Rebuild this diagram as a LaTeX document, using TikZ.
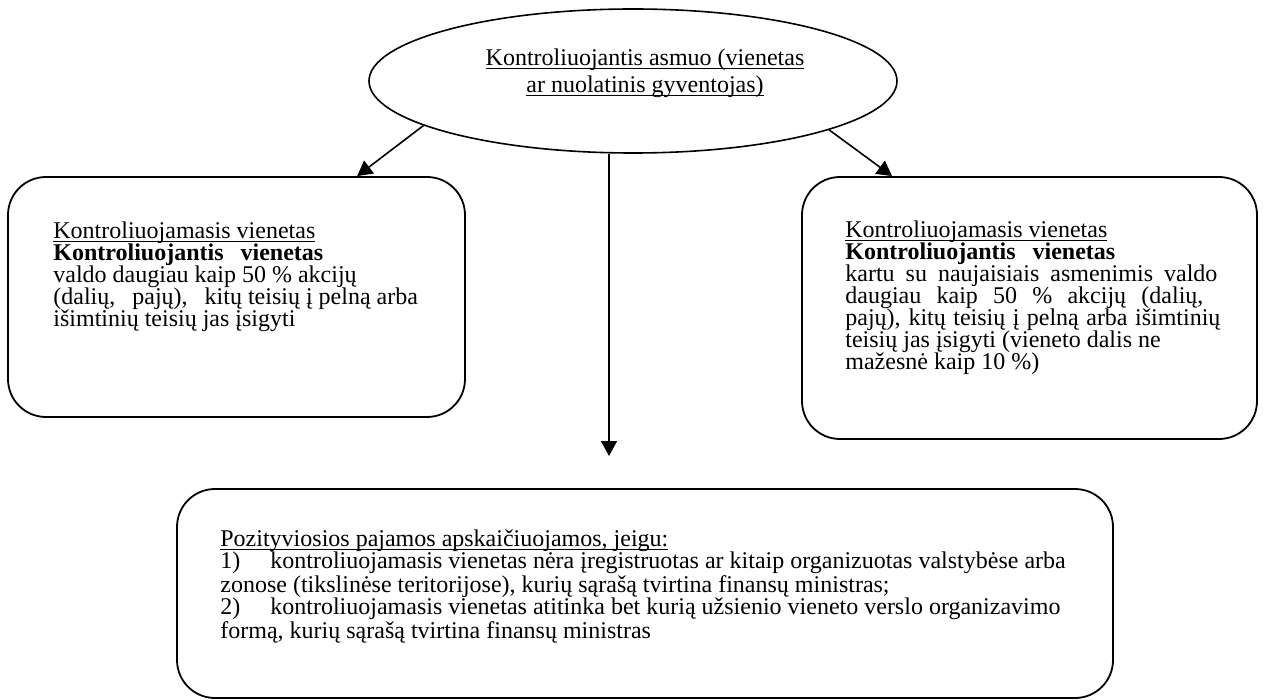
\documentclass[tikz,border=0pt]{standalone}
\usepackage{fontspec}
\setmainfont{Liberation Serif}
\usetikzlibrary{shapes.geometric,arrows.meta}
\newcommand{\ulin}[1]{\setbox0=\hbox{#1}\rlap{\rule[-1.5pt]{\wd0}{0.5pt}}\box0}
\begin{document}
\begin{tikzpicture}[x=0.5pt,y=-0.5pt,>={Triangle[length=7.5pt,width=8pt]},
    every node/.style={font=\fontsize{12}{11}\selectfont},
    card/.style={draw,rounded corners=19pt,line width=0.9pt,inner sep=0pt},
    txt/.style={inner sep=0pt,align=left,anchor=north west}]
    \useasboundingbox (0,0) rectangle (1263,700);
    \node[ellipse,draw,line width=0.8pt,minimum width=264pt,minimum height=72pt,
        inner sep=0pt] (ctrl) at (633,81) {};
    \node[align=center,inner sep=0pt,anchor=north,
        font=\fontsize{12}{13.5}\selectfont] (ctrltxt) at (645,48.6)
        {\ulin{Kontroliuojantis asmuo (vienetas}\\\ulin{ar nuolatinis gyventojas)}};
    \node[card,minimum width=228.5pt,minimum height=120pt] (left) at (236.5,297) {};
    \node[card,minimum width=227.5pt,minimum height=131pt] (right) at (1029.5,308) {};
    \node[card,minimum width=468pt,minimum height=104.5pt] (income) at (645,593.5) {};
    \node[txt] (lefttxt) at (53,221.6) {\ulin{Kontroliuojamasis vienetas}\\
        \textbf{Kontroliuojantis\hspace{8.5pt}vienetas}\\
        valdo daugiau kaip 50 \% akcijų\\
        (dalių,\hspace{5.5pt} pajų),\hspace{5.5pt} kitų teisių į pelną arba\\
        išimtinių teisių jas įsigyti};
    \node[txt] (righttxt) at (845,220.6) {\ulin{Kontroliuojamasis vienetas}\\
        \textbf{Kontroliuojantis\hspace{8.5pt}vienetas}\\
        \hbox to 186pt{kartu su naujaisiais asmenimis valdo}\\
        \hbox to 179pt{daugiau kaip 50 \% akcijų (dalių,}\\
        \hbox to 187.5pt{pajų), kitų teisių į pelną arba išimtinių}\\
        teisių jas įsigyti (vieneto dalis ne\\
        mažesnė kaip 10 \%)};
    \node[txt] (incometxt) at (220,529.6)
        {\ulin{Pozityviosios pajamos apskaičiuojamos, jeigu:}\\
        \makebox[25pt][l]{1)}kontroliuojamasis vienetas nėra įregistruotas ar kitaip organizuotas valstybėse arba\\
        zonose (tikslinėse teritorijose), kurių sąrašą tvirtina finansų ministras;\\
        \makebox[25pt][l]{2)}kontroliuojamasis vienetas atitinka bet kurią užsienio vieneto verslo organizavimo\\
        formą, kurių sąrašą tvirtina finansų ministras};
    \draw[->,line width=0.8pt] (ctrl.192) -- ([xshift=175pt]left.north west);
    \draw[->,line width=0.8pt] (ctrl.346) -- ([xshift=45.5pt]right.north west);
    \coordinate (drop) at (609,456);
    \draw[->,line width=0.8pt] (ctrl.south -| drop) -- (drop);
\end{tikzpicture}
\end{document}
